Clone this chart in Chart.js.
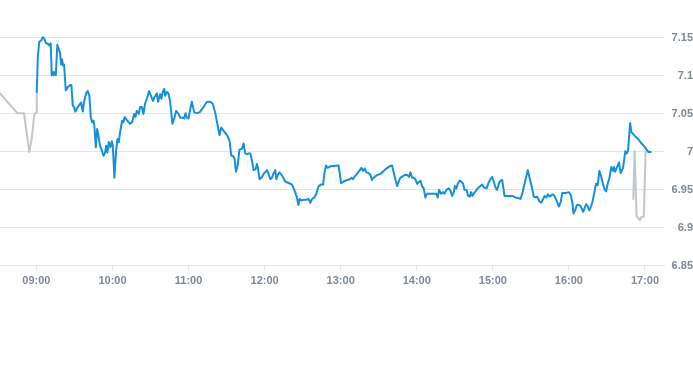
<!DOCTYPE html>
<html>
<head>
<meta charset="utf-8">
<script src="https://cdn.jsdelivr.net/npm/chart.js@4/dist/chart.umd.min.js"></script>
<style>
  html, body { margin: 0; padding: 0; background: #ffffff; }
  #wrap { width: 693px; height: 365px; }
</style>
</head>
<body>
<div id="wrap"><canvas id="c" width="693" height="365"></canvas></div>
<script>
// Times are minutes after midnight
const preTimes  = [511.3, 525.0, 530.2, 534.4, 536.3, 538.4, 539.7, 540.3];
const preValues = [7.077, 7.051, 7.051, 7.000, 7.017, 7.050, 7.052, 7.079];

const mainTimes = [
  540.3,541.1,542.3,543.9,545.0,546.3,547.6,549.4,550.2,551.3,552.1,552.9,553.4,554.2,555.3,556.5,557.9,558.7,559.5,560.2,
  561.0,561.8,563.2,564.7,566.6,567.6,568.7,569.7,570.7,572.3,573.9,575.2,576.6,577.6,579.2,580.5,581.8,582.9,583.9,585.0,
  585.7,586.9,587.9,588.9,590.2,591.6,592.9,594.2,595.0,596.0,597.1,598.4,599.5,600.3,601.5,602.9,603.9,605.0,606.0,607.6,
  608.6,609.7,611.3,613.9,615.5,617.1,618.1,619.2,620.8,621.8,623.2,624.4,625.8,627.1,628.9,630.3,631.9,633.1,635.0,636.0,
  637.6,638.6,639.7,640.8,641.6,642.9,644.2,645.5,647.3,648.7,650.2,652.1,653.4,655.5,656.6,657.6,658.7,660.0,661.3,662.6,
  664.5,666.6,668.6,671.8,674.5,677.1,679.2,681.0,682.9,684.4,685.8,687.6,688.9,690.3,692.3,693.7,695.0,696.3,697.4,698.6,
  700.2,702.1,703.4,704.7,706.1,707.3,708.7,710.0,711.3,712.9,713.9,714.7,716.0,717.9,719.2,721.9,723.1,724.5,725.8,727.1,
  728.4,729.2,730.2,731.6,733.7,736.3,737.6,740.3,741.6,743.4,745.5,746.6,747.6,748.9,750.8,752.9,754.7,756.0,757.4,759.2,
  760.8,762.6,764.5,766.1,767.1,768.4,769.7,771.8,778.4,780.3,782.3,785.0,787.1,788.4,789.7,790.8,792.9,794.7,796.3,797.6,
  798.9,800.2,802.1,803.4,804.7,806.0,808.1,809.9,811.3,813.4,816.0,818.6,820.5,821.8,823.1,824.5,825.7,827.1,828.4,829.7,
  831.8,832.8,833.9,835.0,836.3,837.6,838.9,840.3,841.5,842.9,844.2,845.5,846.8,848.2,850.8,853.4,855.5,856.5,857.6,859.2,
  860.8,861.8,863.4,865.2,866.6,867.9,869.2,870.0,871.3,872.3,873.7,875.2,876.6,877.6,879.2,880.5,881.8,882.9,883.9,885.0,
  887.6,890.2,891.6,892.9,895.0,896.8,898.1,899.5,900.7,902.1,903.4,904.7,906.0,907.4,909.2,911.3,915.3,917.9,920.5,921.8,
  923.2,925.0,927.6,929.2,931.1,932.3,933.7,935.0,936.6,938.2,939.7,940.8,942.3,943.4,944.9,946.8,948.2,950.0,952.1,953.5,
  954.8,957.5,960.1,961.5,962.8,963.6,964.9,966.3,968.1,969.4,971.3,973.5,974.7,976.1,977.4,978.7,980.1,981.4,982.7,984.0,
  985.4,986.7,988.1,989.4,990.7,992.0,993.4,994.7,995.5,996.5,998.2,999.5,1000.8,1002.7,1004.5,1005.6,1006.6,1008.3,1009.3,1012.0,
  1014.6,1017.3,1020.0,1022.6,1024.5
];
const mainValues = [
  7.079,7.125,7.145,7.147,7.151,7.149,7.143,7.142,7.140,7.143,7.101,7.105,7.101,7.105,7.101,7.141,7.134,7.130,7.115,7.122,
  7.114,7.115,7.081,7.085,7.088,7.088,7.061,7.059,7.053,7.058,7.062,7.065,7.053,7.066,7.077,7.080,7.074,7.046,7.039,7.041,
  7.035,7.006,7.030,7.022,7.008,7.002,6.995,6.999,7.008,6.999,7.013,7.006,7.014,7.008,6.966,7.002,7.017,7.013,7.026,7.041,
  7.039,7.046,7.042,7.037,7.039,7.050,7.046,7.054,7.050,7.059,7.059,7.050,7.064,7.070,7.080,7.074,7.067,7.072,7.077,7.066,
  7.076,7.070,7.079,7.083,7.074,7.079,7.077,7.066,7.037,7.044,7.054,7.050,7.045,7.045,7.044,7.051,7.045,7.044,7.056,7.066,
  7.052,7.051,7.052,7.059,7.066,7.066,7.063,7.052,7.035,7.022,7.032,7.028,7.025,7.022,7.015,6.995,6.995,6.991,6.974,6.981,
  7.003,7.004,7.011,6.998,6.997,6.998,6.998,6.989,6.976,6.977,6.984,6.979,6.964,6.967,6.971,6.976,6.971,6.964,6.966,6.972,
  6.976,6.964,6.969,6.973,6.969,6.961,6.960,6.958,6.957,6.950,6.940,6.930,6.938,6.936,6.937,6.937,6.938,6.933,6.938,6.940,
  6.945,6.955,6.957,6.957,6.971,6.982,6.979,6.981,6.982,6.959,6.961,6.963,6.964,6.966,6.964,6.967,6.971,6.975,6.979,6.975,
  6.978,6.973,6.972,6.970,6.963,6.966,6.969,6.970,6.971,6.974,6.978,6.981,6.982,6.973,6.964,6.955,6.961,6.966,6.967,6.969,
  6.970,6.969,6.967,6.973,6.966,6.966,6.964,6.958,6.960,6.962,6.955,6.952,6.940,6.945,6.945,6.945,6.945,6.940,6.950,6.945,
  6.947,6.945,6.950,6.952,6.949,6.942,6.947,6.955,6.952,6.958,6.962,6.961,6.958,6.950,6.950,6.942,6.941,6.947,6.942,6.945,
  6.951,6.955,6.957,6.953,6.952,6.960,6.964,6.967,6.961,6.953,6.950,6.958,6.962,6.963,6.942,6.942,6.942,6.940,6.939,6.938,
  6.945,6.958,6.976,6.964,6.951,6.941,6.940,6.941,6.935,6.933,6.938,6.942,6.940,6.944,6.941,6.944,6.943,6.937,6.928,6.934,
  6.946,6.946,6.947,6.943,6.932,6.919,6.923,6.930,6.930,6.928,6.921,6.931,6.929,6.923,6.928,6.935,6.947,6.958,6.956,6.975,
  6.968,6.959,6.951,6.948,6.959,6.966,6.980,6.975,6.980,6.974,6.981,6.986,6.972,6.979,7.001,6.998,7.001,7.038,7.026,7.021,
  7.017,7.011,7.006,7.000,7.000
];

const postTimes  = [1010.8, 1011.3, 1011.8, 1013.4, 1014.7, 1016.0, 1017.1, 1019.1, 1020.5, 1023.1, 1024.5];
const postValues = [6.938, 6.938, 7.001, 6.915, 6.913, 6.910, 6.914, 6.915, 7.000, 7.001, 7.000];

const xTickTimes  = [540, 600, 660, 720, 780, 840, 900, 960, 1020];
const xTickLabels = ['09:00', '10:00', '11:00', '12:00', '13:00', '14:00', '15:00', '16:00', '17:00'];
const yTickValues = [6.85, 6.9, 6.95, 7, 7.05, 7.1, 7.15];
const yTickLabels = ['6.85', '6.9', '6.95', '7', '7.05', '7.1', '7.15'];

const toPoints = (ts, vs) => ts.map((t, i) => ({ x: t, y: vs[i] }));

const BLUE = '#1590de';
const GRAY = '#bfc6cc';
const GRID = '#e3e5e8';
const TICK = '#7f8995';
const FONT = { family: '"Liberation Sans", Arial, sans-serif', size: 11, weight: 'bold' };

new Chart(document.getElementById('c'), {
  type: 'line',
  data: {
    datasets: [
      { data: toPoints(mainTimes, mainValues), borderColor: BLUE, borderWidth: 2, order: 0 },
      { data: toPoints(preTimes, preValues), borderColor: GRAY, borderWidth: 2, order: 1 },
      { data: toPoints(postTimes, postValues), borderColor: GRAY, borderWidth: 2, order: 1 }
    ]
  },
  options: {
    responsive: false,
    devicePixelRatio: 1,
    animation: false,
    layout: { padding: { left: 0, right: 0, top: 0, bottom: 73 } },
    elements: {
      point: { radius: 0, hoverRadius: 0 },
      line: { tension: 0, fill: false, borderJoinStyle: 'round', borderCapStyle: 'round' }
    },
    plugins: { legend: { display: false }, tooltip: { enabled: false } },
    scales: {
      x: {
        type: 'linear',
        min: 511.3,
        max: 1035,
        afterBuildTicks: (s) => { s.ticks = xTickTimes.map(v => ({ value: v })); },
        afterFit: (s) => { s.paddingLeft = 0; s.paddingRight = 0; },
        ticks: {
          autoSkip: false, maxRotation: 0, padding: 4,
          color: TICK, font: FONT,
          callback: (v) => { const i = xTickTimes.indexOf(v); return i >= 0 ? xTickLabels[i] : ''; }
        },
        grid: { drawOnChartArea: false, drawTicks: true, tickLength: 5, color: GRID },
        border: { display: true, color: GRID }
      },
      y: {
        position: 'right',
        min: 6.85,
        max: 7.2,
        afterBuildTicks: (s) => { s.ticks = yTickValues.map(v => ({ value: v })); },
        afterFit: (s) => { s.width = 29; s.paddingTop = 0; s.paddingBottom = 0; },
        ticks: {
          padding: 8, crossAlign: 'far',
          color: TICK, font: FONT,
          callback: (v) => { const i = yTickValues.findIndex(t => Math.abs(t - v) < 1e-9); return i >= 0 ? yTickLabels[i] : ''; }
        },
        grid: { drawTicks: false, color: GRID },
        border: { display: false }
      }
    }
  }
});
</script>
</body>
</html>
